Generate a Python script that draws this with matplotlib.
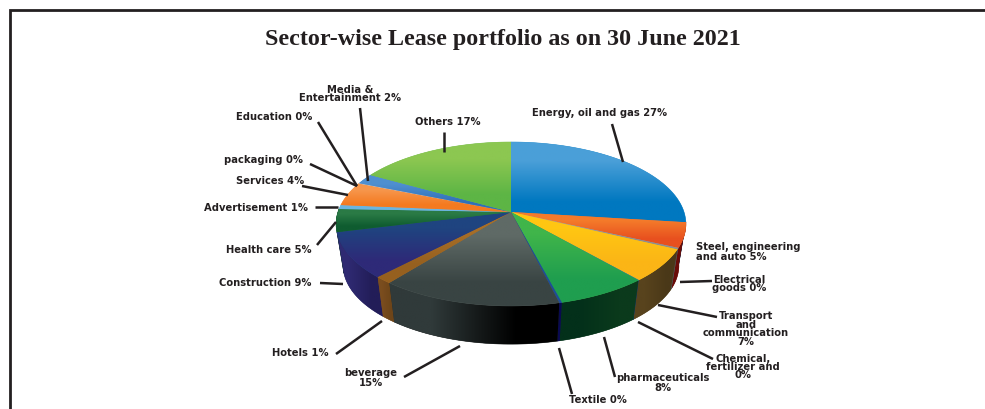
"""Sector-wise lease portfolio, drawn as a perspective 3D pie."""

import numpy as np
import matplotlib
matplotlib.use("Agg")
import matplotlib.pyplot as plt
from matplotlib.colors import to_rgb
from matplotlib.patches import Polygon

TITLE = "Sector-wise Lease portfolio as on 30 June 2021"

sectors = ["Energy, oil and gas", "Steel, engineering and auto", "Electrical goods",
           "Transport and communication", "Chemical, fertilizer and", "pharmaceuticals",
           "Textile", "beverage", "Hotels", "Construction", "Health care",
           "Advertisement", "Services", "packaging", "Education",
           "Media & Entertainment", "Others"]
shares = [27.0, 4.9, 0.3, 6.4, 0.05, 7.3, 0.2, 14.55, 1.4, 9.0, 4.5, 0.8, 4.7,
          0.05, 0.05, 2.0, 16.8]
labels = ["Energy, oil and gas 27%", "Steel, engineering\nand auto 5%", "Electrical\ngoods 0%",
          "Transport\nand\ncommunication\n7%", "Chemical,\nfertilizer and\n0%",
          "pharmaceuticals\n8%", "Textile 0%", "beverage\n15%", "Hotels 1%",
          "Construction 9%", "Health care 5%", "Advertisement 1%", "Services 4%",
          "packaging 0%", "Education 0%", "Media &\nEntertainment 2%", "Others 17%"]

# top face gradient (back, front) and side wall gradient (left, right) per slice
top_colors = [("#4a9fd8", "#0078c0"), ("#f47a2a", "#e8501f"), ("#a5a5a5", "#8f8f8f"),
              ("#ffc612", "#fbb516"), ("#2a6ebb", "#2a6ebb"), ("#40b54a", "#1f9e4f"),
              ("#1f4e96", "#1f4e96"), ("#5f6a66", "#394443"), ("#a86f28", "#96601f"),
              ("#1f4480", "#2e2a78"), ("#2a7a45", "#0f5c30"), ("#6bb5e0", "#6bb5e0"),
              ("#f7964b", "#f47a20"), ("#c0c0c0", "#c0c0c0"), ("#d0d0d0", "#d0d0d0"),
              ("#4f8fd0", "#2f70b8"), ("#8cc751", "#5db545")]
wall_colors = [("#0a4f80", "#0a4f80"), ("#6a0c08", "#6a0c08"), ("#505050", "#505050"),
               ("#58431d", "#4a3818"), ("#123a70", "#123a70"), ("#03301a", "#0b3a1c"),
               ("#0a0a50", "#0a0a50"), ("#303a3a", "#000000"), ("#7a4d1e", "#6e4519"),
               ("#2f2a72", "#221d58"), ("#0c4024", "#0c4024"), ("#3a6f90", "#3a6f90"),
               ("#a05a20", "#a05a20"), ("#808080", "#808080"), ("#808080", "#808080"),
               ("#204a80", "#204a80"), ("#3c7a30", "#3c7a30")]

# label anchor (centre, pixels), line spacing and leader line ends
label_pos = [(600, 113), (696, 252), (739, 284), (746, 329), (743, 367), (663, 383),
             (598, 400), (371, 378), (300, 353), (265, 283), (269, 250), (256, 208),
             (270, 181), (263, 160), (274, 117), (350, 94), (448, 122)]
label_gap = [1, 0.95, 0.84, 0.8, 0.78, 0.9, 1, 0.95, 1, 1, 1, 1, 1, 1, 1, 0.7, 1]
leaders = [((612, 125), (623, 163)), None, ((712, 282), (680, 283)), ((717, 318), (658, 306)),
           ((713, 360), (638, 323)), ((615, 378), (604, 338)), ((572, 395), (559, 349)),
           ((404, 378), (460, 347)), ((336, 355), (382, 322)), ((320, 284), (343, 285)),
           ((317, 246), (336, 223)), ((315, 208), (338, 208)), ((302, 187), (348, 196)),
           ((310, 165), (357, 187)), ((318, 123), (357, 187)), ((360, 109), (368, 182)),
           ((444, 133), (444, 153))]

CX, CY = 511, 213
RX, RY, TILT = 173, 80.2, 0.146
DEPTH, WALL_SCALE = 42, 0.96


def project(theta, scale=1.0, drop=0.0):
    """Map clockwise angle from 12 o'clock on the disc to picture pixels."""
    u, v = np.sin(theta), np.cos(theta)
    w = 1 + TILT * v
    return np.column_stack((CX + scale * RX * u / w, CY + drop - scale * RY * v / w))


def blend(c0, c1, t):
    return tuple((1 - t) * a + t * b for a, b in zip(to_rgb(c0), to_rgb(c1)))


def gradient_fill(ax, pts, c0, c1, vertical, zorder):
    """Polygon filled with a two colour gradient, with a flat one under it for the seams."""
    mid = blend(c0, c1, 0.5)
    ax.add_patch(Polygon(pts, closed=True, facecolor=mid, edgecolor=mid, linewidth=0.4,
                         zorder=zorder))
    x0, y0 = pts.min(axis=0)
    x1, y1 = pts.max(axis=0)
    if x1 - x0 < 1 or y1 - y0 < 1:
        return
    grad = np.array([to_rgb(c0), to_rgb(c1)])
    grad = grad[:, None, :] if vertical else grad[None, :, :]
    im = ax.imshow(grad, extent=(x0, x1, y1, y0), aspect="auto", interpolation="bilinear",
                   zorder=zorder + 0.1)
    im.set_clip_path(Polygon(pts, closed=True, transform=ax.transData))


fig = plt.figure(figsize=(9.85, 4.1), dpi=100, facecolor="white")
ax = fig.add_axes([0, 0, 1, 1])

edges = np.concatenate(([0], np.cumsum(shares))) / np.sum(shares) * 2 * np.pi

# side walls first, back to front, the top face hides what is behind it
mids = (edges[:-1] + edges[1:]) / 2
for i in np.argsort(-np.cos(mids)):
    a = edges[i]
    b = edges[i + 1]
    if np.cos(a) > -0.12 and np.cos(b) > -0.12:
        continue
    if np.cos(a) > -0.12:
        a = np.arccos(-0.12)
    th = np.linspace(a, b, 40)
    outline = np.vstack((project(th), project(th, WALL_SCALE, DEPTH)[::-1]))
    gradient_fill(ax, outline, *wall_colors[i], False, 1)

# top face, one vertical gradient per slice
for i in range(len(shares)):
    th = np.linspace(edges[i], edges[i + 1], max(2, int((edges[i + 1] - edges[i]) * 120)))
    pts = np.vstack(([CX, CY], project(th)))
    gradient_fill(ax, pts, *top_colors[i], True, 2)

# leaders and labels
for lab, pos, gap, seg in zip(labels, label_pos, label_gap, leaders):
    if seg is not None:
        ax.plot(*zip(*seg), color="#231f20", lw=1.8, solid_capstyle="butt", zorder=3)
    left = lab.startswith("Steel")
    ax.text(pos[0], pos[1], lab, ha="left" if left else "center", va="center",
            multialignment="left" if left else "center", family="DejaVu Sans",
            fontweight="bold", fontsize=7.2, color="#231f20", linespacing=gap, zorder=4)

ax.text(503, 40, TITLE, ha="center", va="center", family="Liberation Serif",
        fontweight="bold", fontsize=17.3, color="#231f20")

# frame, open at the bottom
ax.plot([10, 10, 985], [410, 11, 11], color="#231f20", lw=2.0, solid_joinstyle="miter", zorder=5)

ax.set_xlim(0, 985)
ax.set_ylim(410, 0)
ax.axis("off")

plt.savefig("out.png", dpi=100, facecolor="white")
plt.close()
